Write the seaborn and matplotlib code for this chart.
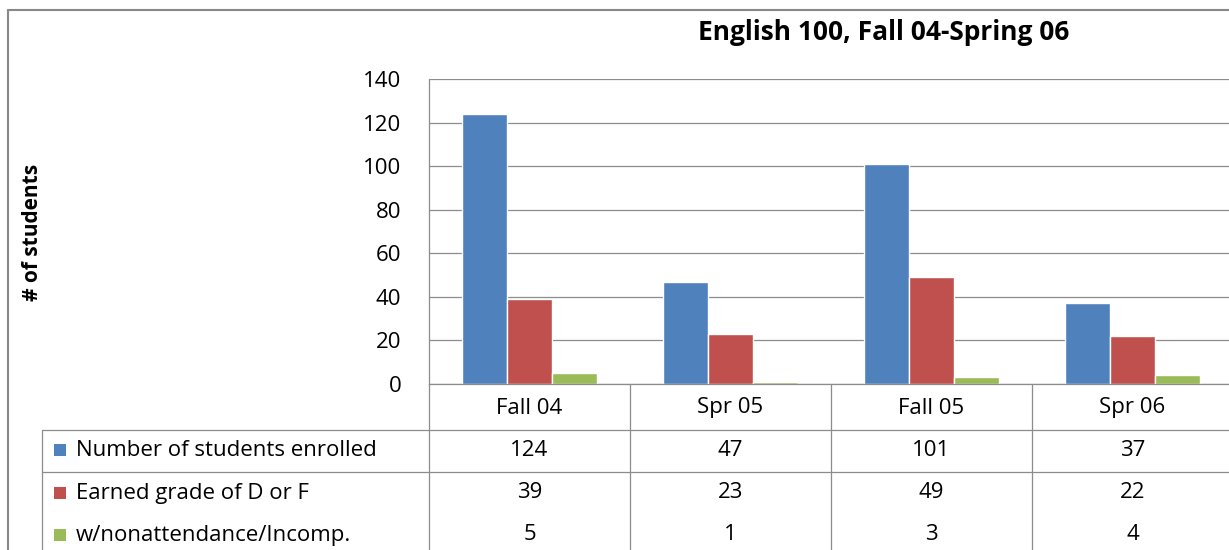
import pandas as pd
import seaborn as sns
import matplotlib.pyplot as plt
from matplotlib.lines import Line2D
from matplotlib.patches import Rectangle
from matplotlib.transforms import blended_transform_factory

terms = ['Fall 04', 'Spr 05', 'Fall 05', 'Spr 06']
series = ['Number of students enrolled', 'Earned grade of D or F', 'w/nonattendance/Incomp.']
enrolled = [124, 47, 101, 37]
grade_df = [39, 23, 49, 22]
nonattend = [5, 1, 3, 4]
colors = ['#4F81BD', '#C0504D', '#9BBB59']

values = [enrolled, grade_df, nonattend]
df = pd.DataFrame({
    'term': terms * 3,
    'series': [s for s in series for _ in terms],
    'count': enrolled + grade_df + nonattend,
})

sns.set_style('white')
plt.rcParams['font.family'] = ['Open Sans', 'DejaVu Sans']
plt.rcParams['text.color'] = 'black'

W, H = 1229, 550
fig = plt.figure(figsize=(W / 100, H / 100), dpi=100)
fx = lambda px: px / W
fy = lambda py: 1 - py / H
fs = 16

ax = fig.add_axes([fx(429), fy(384), fx(1233 - 429), (384 - 79) / H])
sns.barplot(data=df, x='term', y='count', hue='series', palette=colors,
            width=0.67, saturation=1, legend=False, ax=ax)
ax.set_xlim(-0.5, 3.5)
ax.set_ylim(0, 140)
ax.set_yticks(range(0, 141, 20))
ax.yaxis.grid(True, color='#8c8c8c', linewidth=0.9)
ax.set_axisbelow(True)
ax.set_xticks([])
ax.set_xlabel('')
ax.set_ylabel('')
ax.tick_params(axis='y', length=0, pad=20, labelsize=fs, colors='#000000')
for s in ['top', 'right']:
    ax.spines[s].set_visible(False)
for s in ['left', 'bottom']:
    ax.spines[s].set_color('#8c8c8c')
    ax.spines[s].set_linewidth(0.9)

# data table under the axis
gc = '#8c8c8c'
tr = blended_transform_factory(ax.transData, fig.transFigure)
for xb in [0.5, 1.5, 2.5]:
    fig.add_artist(Line2D([xb, xb], [fy(384), fy(550)], transform=tr, color=gc, lw=0.9))
fig.add_artist(Line2D([fx(429), fx(429)], [fy(384), fy(550)], color=gc, lw=0.9))
fig.add_artist(Line2D([fx(42), fx(42)], [fy(430), fy(550)], color=gc, lw=0.9))
for yl in [430, 472]:
    fig.add_artist(Line2D([fx(42), 1], [fy(yl), fy(yl)], color=gc, lw=0.9))

for i, t in enumerate(terms):
    fig.text(i, fy(408), t, transform=tr, ha='center', va='center', fontsize=fs)

row_y = [450, 493, 535]
for r, (name, vals, c) in enumerate(zip(series, values, colors)):
    fig.add_artist(Rectangle((fx(54), fy(row_y[r] + 6)), fx(12), 12 / H,
                             facecolor=c, edgecolor='none'))
    fig.text(fx(76), fy(row_y[r]), name, ha='left', va='center', fontsize=fs)
    for i, v in enumerate(vals):
        fig.text(i, fy(row_y[r]), str(v), transform=tr, ha='center', va='center', fontsize=fs)

# chart border
fig.add_artist(Line2D([fx(8), 1], [fy(10), fy(10)], color='#888888', lw=1.5))
fig.add_artist(Line2D([fx(8), fx(8)], [fy(10), 0], color='#888888', lw=1.5))

fig.text(fx(884), fy(33), 'English 100, Fall 04-Spring 06', ha='center', va='center',
         fontsize=19, fontweight='bold')
fig.text(fx(33), fy(232), '# of students', rotation=90, ha='center', va='center',
         fontsize=15, fontweight='bold')

fig.savefig('out.png', dpi=100)
